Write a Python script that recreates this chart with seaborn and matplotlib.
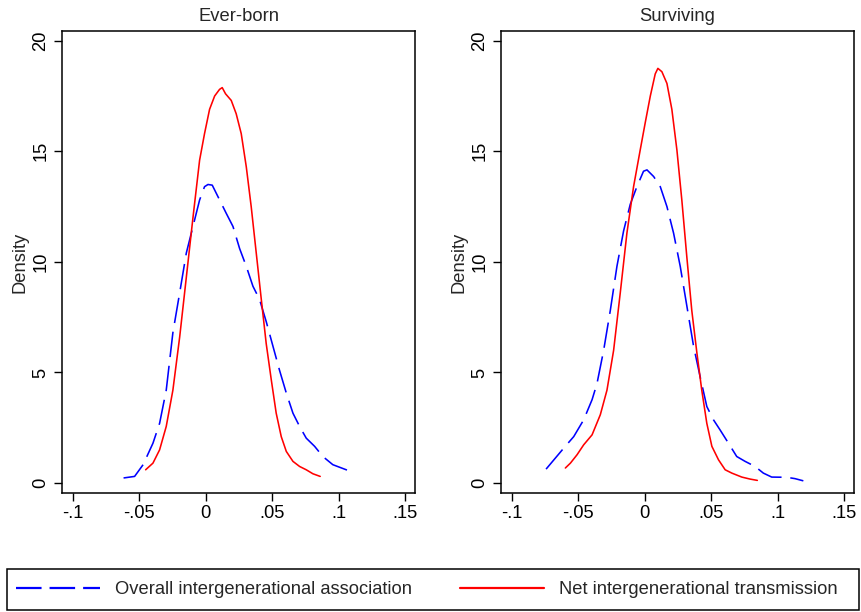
import matplotlib
matplotlib.use("Agg")
import matplotlib.pyplot as plt
from matplotlib.lines import Line2D
from matplotlib.patches import Rectangle
import pandas as pd
import seaborn as sns

sns.set_theme(style="white")
plt.rcParams["font.family"] = ["Liberation Sans", "DejaVu Sans"]

# Kernel density estimates, Ever-born
eb_overall_x = [-0.0617, -0.0534, -0.047, -0.0396, -0.0346, -0.0296, -0.0246, -0.0195,
                -0.0145, -0.0095, -0.0045, -0.0008, 0.0018, 0.005, 0.0093, 0.0155,
                0.0206, 0.0256, 0.0306, 0.0356, 0.0406, 0.0456, 0.0506, 0.0556,
                0.0607, 0.0657, 0.0707, 0.0757, 0.082, 0.0882, 0.0957, 0.1058, 0.112]
eb_overall_y = [0.23, 0.3, 0.83, 1.8, 2.7, 4.2, 6.8, 8.6,
                10.4, 11.6, 12.8, 13.4, 13.5, 13.47, 12.95, 12.2,
                11.6, 10.6, 9.8, 8.9, 8.3, 7.3, 6.2, 5.1,
                4.07, 3.16, 2.56, 2.03, 1.66, 1.2, 0.83, 0.6, 0.42]
eb_net_x = [-0.0451, -0.0396, -0.0346, -0.0296, -0.0246, -0.0195, -0.0145, -0.0095,
            -0.0045, -0.0008, 0.003, 0.0068, 0.0105, 0.0125, 0.015, 0.0193,
            0.023, 0.0268, 0.0306, 0.0343, 0.0381, 0.0419, 0.0456, 0.0494,
            0.0531, 0.0569, 0.0607, 0.0657, 0.0707, 0.0757, 0.0807, 0.0862]
eb_net_y = [0.6, 0.9, 1.5, 2.56, 4.2, 6.6, 9.3, 12.0,
            14.6, 15.8, 16.9, 17.5, 17.8, 17.88, 17.6, 17.3,
            16.7, 15.8, 14.3, 12.5, 10.4, 8.3, 6.3, 4.67,
            3.16, 2.1, 1.43, 0.98, 0.75, 0.6, 0.42, 0.3]

# Kernel density estimates, Surviving
sv_overall_x = [-0.0741, -0.0671, -0.0608, -0.0533, -0.0458, -0.0395, -0.0358, -0.0308,
                -0.0258, -0.0208, -0.0158, -0.0108, -0.0058, -0.0008, 0.0018, 0.0068,
                0.0118, 0.0168, 0.0218, 0.0268, 0.0318, 0.0368, 0.0418, 0.0468,
                0.0518, 0.0568, 0.0631, 0.0693, 0.0756, 0.0831, 0.0893, 0.0956,
                0.1069, 0.1131, 0.1194]
sv_overall_y = [0.63, 1.13, 1.58, 2.1, 2.86, 3.77, 4.5, 6.0,
                7.8, 9.8, 11.4, 12.6, 13.4, 14.1, 14.16, 13.86,
                13.4, 12.5, 11.3, 9.8, 8.0, 6.2, 4.8, 3.46,
                2.86, 2.4, 1.8, 1.2, 0.98, 0.75, 0.45, 0.27,
                0.26, 0.2, 0.1]
sv_net_x = [-0.0596, -0.0558, -0.0508, -0.0458, -0.0395, -0.0333, -0.0283, -0.0233,
            -0.0183, -0.0133, -0.0083, -0.0033, 0.0005, 0.0043, 0.008, 0.01,
            0.013, 0.0168, 0.0205, 0.0243, 0.028, 0.0318, 0.0355, 0.0393,
            0.043, 0.0468, 0.0506, 0.0556, 0.0606, 0.0656, 0.0731, 0.0793, 0.0848]
sv_net_y = [0.68, 0.9, 1.28, 1.73, 2.18, 3.09, 4.2, 6.0,
            8.6, 11.3, 13.4, 15.06, 16.3, 17.5, 18.5, 18.75,
            18.6, 18.07, 16.9, 15.06, 12.8, 10.2, 7.8, 5.9,
            4.2, 2.7, 1.66, 1.05, 0.6, 0.45, 0.27, 0.18, 0.12]

panel_titles = ["Ever-born", "Surviving"]
series_labels = ["Overall intergenerational association", "Net intergenerational transmission"]
x_ticks = [-0.1, -0.05, 0, 0.05, 0.1, 0.15]
x_ticklabels = ["-.1", "-.05", "0", ".05", ".1", ".15"]
y_ticks = [0, 5, 10, 15, 20]

panels = [
    (eb_overall_x, eb_overall_y, eb_net_x, eb_net_y),
    (sv_overall_x, sv_overall_y, sv_net_x, sv_net_y),
]

BLUE = "#0000ff"
RED = "#ff0000"
DASH = (0, (16, 5.5))
LW = 1.15
FS = 13.2

W, H = 861, 612
fig = plt.figure(figsize=(W / 100, H / 100), dpi=100)
axes_rects = [
    [62 / W, 1 - 493 / H, 353 / W, 462 / H],
    [501 / W, 1 - 493 / H, 353 / W, 462 / H],
]

for rect, title, (ox, oy, nx, ny) in zip(axes_rects, panel_titles, panels):
    ax = fig.add_axes(rect)
    d_over = pd.DataFrame({"x": ox, "y": oy})
    d_net = pd.DataFrame({"x": nx, "y": ny})
    sns.lineplot(data=d_over, x="x", y="y", ax=ax, sort=False, estimator=None,
                 color=BLUE, lw=LW, linestyle=DASH)
    sns.lineplot(data=d_net, x="x", y="y", ax=ax, sort=False, estimator=None,
                 color=RED, lw=LW)
    ax.set_xlim(-0.108, 0.1575)
    ax.set_ylim(-0.45, 20.44)
    ax.set_xticks(x_ticks)
    ax.set_xticklabels(x_ticklabels)
    ax.set_yticks(y_ticks)
    ax.set_yticklabels([str(v) for v in y_ticks], rotation=90, va="center")
    ax.tick_params(axis="both", direction="out", length=6, width=1, colors="black",
                   labelsize=FS, bottom=True, left=True, pad=3)
    ax.set_xlabel("")
    ax.set_ylabel("Density", fontsize=FS, labelpad=3)
    ax.set_title(title, fontsize=FS, pad=7)
    for s in ax.spines.values():
        s.set_color("black")
        s.set_linewidth(1.1)
    ax.set_facecolor("white")

# Legend frame spanning the figure width
fig.patches.append(Rectangle((7 / W, 1 - 610 / H), 852 / W, 41 / H,
                             transform=fig.transFigure, fill=False,
                             edgecolor="black", linewidth=1.1))

handles = [
    Line2D([], [], color=BLUE, lw=1.6, linestyle=(0, (11.5, 3.6))),
    Line2D([], [], color=RED, lw=1.6),
]
leg = fig.legend(handles, series_labels, ncol=2, loc="center left",
                 bbox_to_anchor=(16 / W, 1 - 590 / H), frameon=False,
                 fontsize=FS, handlelength=4.6, handletextpad=0.82,
                 borderaxespad=0, borderpad=0, columnspacing=2.6)

fig.savefig("out.png", dpi=100, facecolor="white")
